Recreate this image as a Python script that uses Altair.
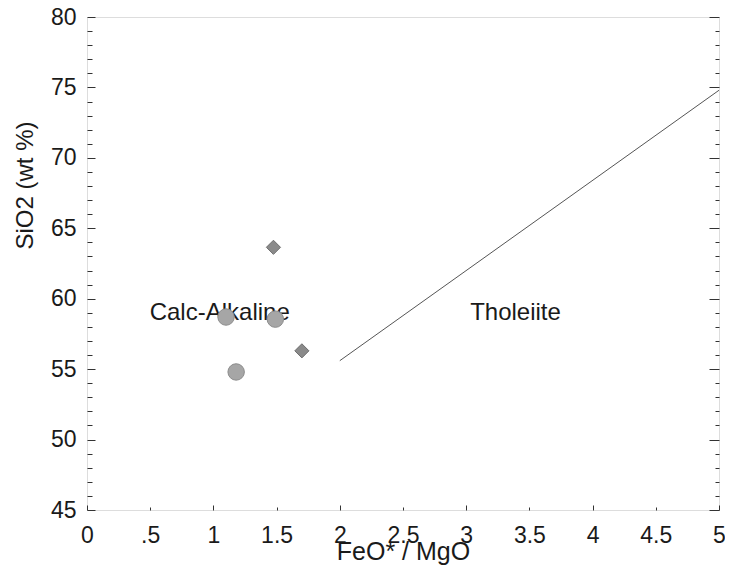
import altair as alt
import pandas as pd

# ---- data ----
circle_x = [1.10, 1.49, 1.18]
circle_y = [58.7, 58.55, 54.8]
diamond_x = [1.475, 1.70]
diamond_y = [63.65, 56.3]

line_x = [2.0, 5.0]
line_y = [55.6, 74.8]

label_text = ["Calc-Alkaline", "Tholeiite"]
label_x = [1.05, 3.39]
label_y = [59.0, 59.0]

x_label_values = [0, 0.5, 1, 1.5, 2, 2.5, 3, 3.5, 4, 4.5, 5]
x_major_ticks = [0, 1, 2, 3, 4, 5]
x_minor_ticks = [0.5, 1.5, 2.5, 3.5, 4.5]
y_label_values = [45, 50, 55, 60, 65, 70, 75, 80]
y_minor_ticks = [v for v in range(45, 81) if v % 5 != 0]

FONT = "Liberation Sans"
W, H = 632, 493
TICK = "#333333"

pts = pd.DataFrame({
    "x": circle_x + diamond_x,
    "y": circle_y + diamond_y,
    "kind": ["circle"] * len(circle_x) + ["diamond"] * len(diamond_x),
})
line_df = pd.DataFrame({"x": line_x, "y": line_y})
lab_df = pd.DataFrame({"x": label_x, "y": label_y, "t": label_text})

xs = alt.Scale(domain=[0, 5], nice=False, zero=False)
ys = alt.Scale(domain=[45, 80], nice=False, zero=False)


def tick_axis(orient, offset, values, size):
    return alt.Axis(
        orient=orient, offset=offset, values=values, labels=False, title=None,
        domain=False, grid=False, ticks=True, tickColor=TICK, tickWidth=1, tickSize=size,
    )


# text layer: right-edge major ticks, bottom-edge integer ticks (pointing inward)
text_layer = alt.Chart(lab_df).mark_text(
    font=FONT, fontSize=24, color="#1a1a1a", align="center", baseline="middle"
).encode(
    x=alt.X("x:Q", scale=xs, axis=tick_axis("top", -H, x_major_ticks, 5)),
    y=alt.Y("y:Q", scale=ys, axis=tick_axis("left", -W, y_label_values, 10)),
    text="t:N",
)

# line layer: left-edge major ticks, bottom-edge half ticks
line_layer = alt.Chart(line_df).mark_line(color="#555555", strokeWidth=1).encode(
    x=alt.X("x:Q", scale=xs, axis=tick_axis("top", -H, x_minor_ticks, 3)),
    y=alt.Y("y:Q", scale=ys, axis=tick_axis("right", -W, y_label_values, 8)),
)

# invisible helper layers carrying minor ticks on left and right edges
minor_right = alt.Chart(line_df).mark_line(strokeOpacity=0).encode(
    x=alt.X("x:Q", scale=xs, axis=None),
    y=alt.Y("y:Q", scale=ys, axis=tick_axis("left", -W, y_minor_ticks, 4)),
)
minor_left = alt.Chart(line_df).mark_line(strokeOpacity=0).encode(
    x=alt.X("x:Q", scale=xs, axis=None),
    y=alt.Y("y:Q", scale=ys, axis=tick_axis("right", -W, y_minor_ticks, 5)),
)

# points layer: carries the labelled axes
point_layer = alt.Chart(pts).mark_point(filled=True, opacity=1, strokeWidth=1).encode(
    x=alt.X("x:Q", scale=xs, axis=alt.Axis(
        orient="bottom", values=x_label_values, ticks=False, tickSize=0, domain=False, grid=False,
        labelExpr="datum.value == 0.5 ? '.5' : '' + datum.value",
        labelFont=FONT, labelFontSize=23, labelColor="#1a1a1a", labelPadding=14,
        labelFlush=False, labelOverlap=False,
        title="FeO* / MgO", titleFont=FONT, titleFontSize=25, titleFontWeight="normal",
        titleColor="#1a1a1a", titleBaseline="top", titleY=29,
    )),
    y=alt.Y("y:Q", scale=ys, axis=alt.Axis(
        orient="left", values=y_label_values, ticks=False, tickSize=0, domain=False, grid=False,
        labelFont=FONT, labelFontSize=23, labelColor="#1a1a1a", labelPadding=11,
        labelFlush=False, labelOverlap=False,
        title="SiO2  (wt %)", titleFont=FONT, titleFontSize=24, titleFontWeight="normal",
        titleColor="#1a1a1a", titleAngle=-90, titleAlign="center", titleBaseline="middle",
        titleX=-62, titleY=168,
    )),
    shape=alt.Shape("kind:N", scale=alt.Scale(domain=["circle", "diamond"], range=["circle", "diamond"]), legend=None),
    size=alt.Size("kind:N", scale=alt.Scale(domain=["circle", "diamond"], range=[270, 200]), legend=None),
    fill=alt.Fill("kind:N", scale=alt.Scale(domain=["circle", "diamond"], range=["#a6a6a6", "#8a8a8a"]), legend=None),
    stroke=alt.Stroke("kind:N", scale=alt.Scale(domain=["circle", "diamond"], range=["#8c8c8c", "#6e6e6e"]), legend=None),
)

chart = alt.layer(text_layer, line_layer, minor_right, minor_left, point_layer).resolve_axis(
    x="independent", y="independent"
).properties(
    width=W, height=H,
    autosize=alt.AutoSizeParams(type="none"),
    padding={"left": 79, "top": 9, "right": 6, "bottom": 55},
).configure_view(
    stroke="#333333", strokeWidth=1
).configure(font=FONT, background="white")

chart.save("out.html", embed_options={"renderer": "svg", "actions": False})
